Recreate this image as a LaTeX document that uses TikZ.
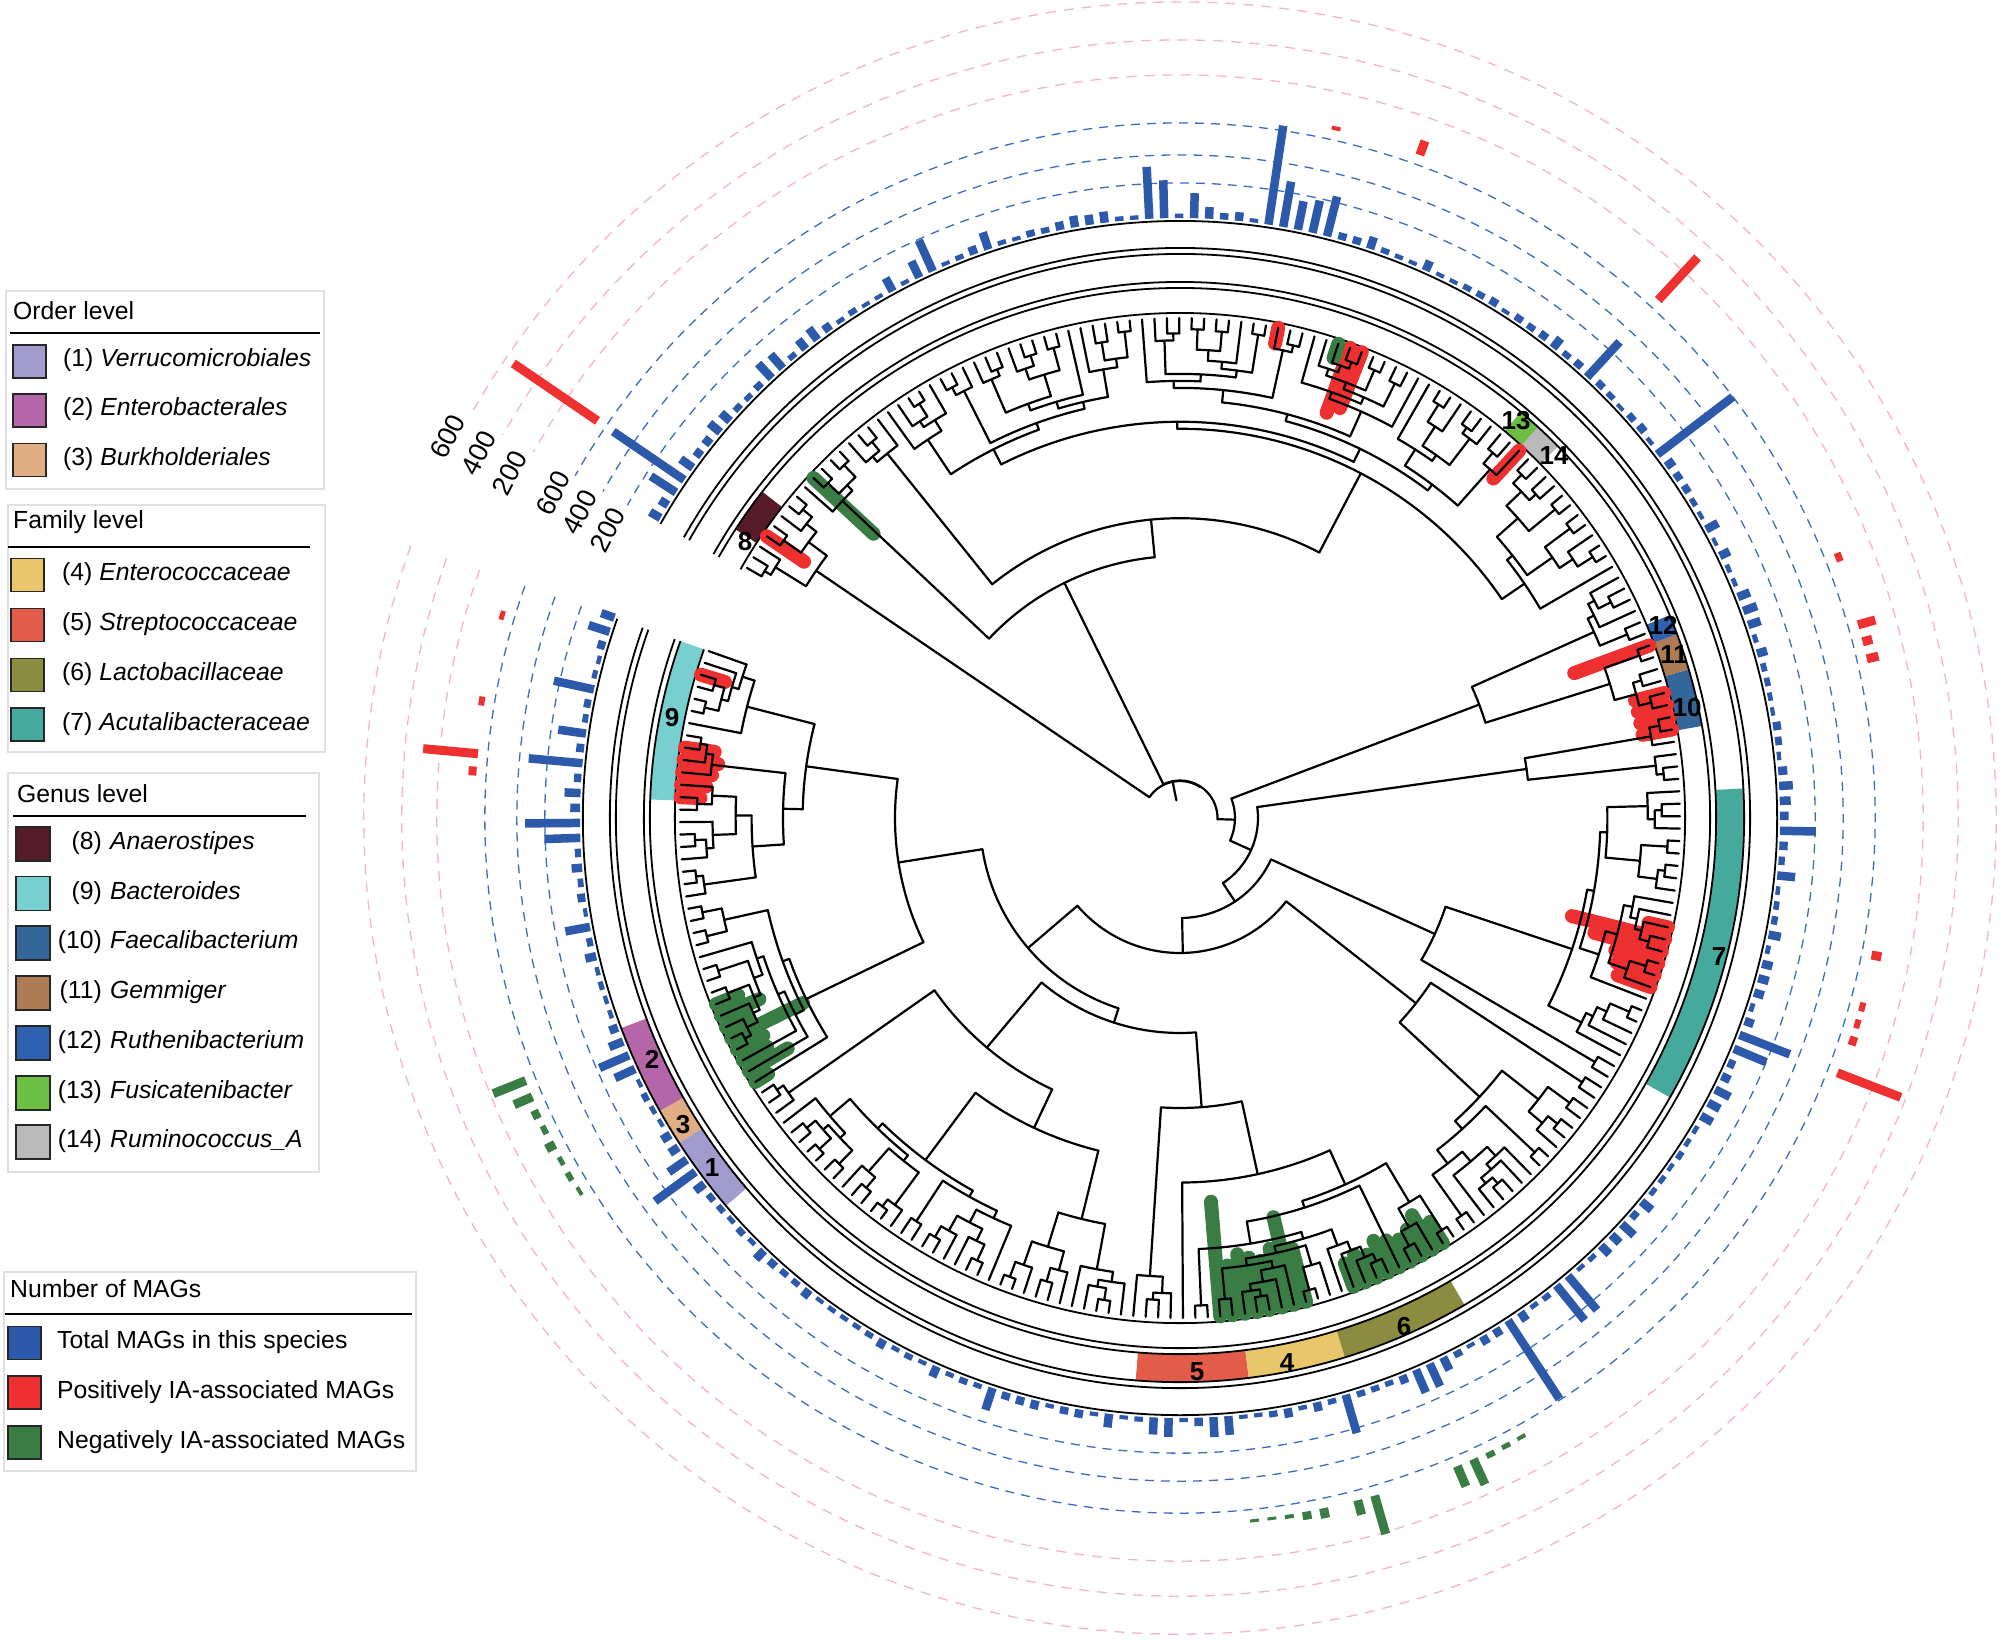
\documentclass[tikz,border=0pt]{standalone}
\usepackage{fontspec}
\setmainfont{Liberation Sans}
\definecolor{bblue}{HTML}{2C59A9}
\definecolor{rred}{HTML}{EE3130}
\definecolor{ggreen}{HTML}{3A7D44}
\definecolor{pinkd}{HTML}{F5B5C4}
\definecolor{blued}{HTML}{3D6BBF}
\definecolor{cA}{HTML}{A29BCD}
\definecolor{cB}{HTML}{B566A8}
\definecolor{cC}{HTML}{E0AE82}
\definecolor{cD}{HTML}{E9C66B}
\definecolor{cE}{HTML}{E35C4A}
\definecolor{cF}{HTML}{8C8C40}
\definecolor{cG}{HTML}{45A99D}
\definecolor{cH}{HTML}{561B29}
\definecolor{cI}{HTML}{78CFCF}
\definecolor{cJ}{HTML}{336699}
\definecolor{cK}{HTML}{AD7C54}
\definecolor{cL}{HTML}{2E62B0}
\definecolor{cM}{HTML}{6CBE45}
\definecolor{cN}{HTML}{B9B9B9}
\tikzset{
  br/.style={line width=2.2pt, black, line cap=round},
  bbar/.style={line width=8.5pt, bblue},
  rbar/.style={line width=9pt, rred},
  gbar/.style={line width=9pt, ggreen},
  hlr/.style={line width=14pt, rred, line cap=round},
  hlg/.style={line width=14pt, ggreen, line cap=round},
  ringline/.style={line width=1.8pt, black},
  bdash/.style={line width=1.3pt, blued, dash pattern=on 9pt off 7pt},
  pdash/.style={line width=1.3pt, pinkd, dash pattern=on 10pt off 8pt},
  lgf/.style={font=\fontsize{24.75}{30}\selectfont},
  stripl/.style={font=\fontsize{26}{30}\selectfont\bfseries},
  axl/.style={font=\fontsize{27}{32}\selectfont, rotate=62.7, inner sep=0pt},
  legbox/.style={draw=black!12, line width=1.5pt, fill=white},
  legsq/.style={draw=black!85, line width=1.3pt}
}
\def\Rtip{500}
\def\tA{160.5}
\def\dA{1.4265}
% forced splits / radii
\def\forceS#1#2#3{\expandafter\def\csname fs@#1@#2\endcsname{#3}}
\def\forceR#1#2#3{\expandafter\def\csname fr@#1@#2\endcsname{#3}}
\def\clade#1#2#3{%
 \begingroup
 \ifnum#1=#2\relax
   \pgfmathsetmacro\cc{\tA+#1*\dA}%
   \draw[br] (\cc:#3) -- (\cc:\Rtip);%
   \xdef\retc{\cc}%
 \else
   \pgfmathtruncatemacro\sz{#2-#1+1}%
   \ifcsname fs@#1@#2\endcsname
     \edef\mm{\csname fs@#1@#2\endcsname}%
   \else
     \pgfmathtruncatemacro\mm{#1+floor(rnd*(#2-#1))}%
   \fi
   \ifcsname fr@#1@#2\endcsname
     \edef\rr{\csname fr@#1@#2\endcsname}%
   \else
     \pgfmathsetmacro\rr{min(\Rtip-5,max(#3+7,\Rtip-24*pow(ln(\sz),1.3)*(0.7+0.6*rnd)))}%
   \fi
   \pgfmathtruncatemacro\mmp{\mm+1}%
   \edef\tmp{\noexpand\clade{#1}{\mm}{\rr}}\tmp\let\cA\retc
   \edef\tmp{\noexpand\clade{\mmp}{#2}{\rr}}\tmp\let\cB\retc
   \draw[br] (\cA:\rr) arc[start angle=\cA, end angle=\cB, radius=\rr pt];%
   \pgfmathsetmacro\cc{(\cA+\cB)/2}%
   \draw[br] (\cc:#3) -- (\cc:\rr);%
   \xdef\retc{\cc}%
 \fi
 \endgroup}
\def\setbb#1#2{\expandafter\xdef\csname bb@#1\endcsname{#2}}
\newcommand\strip[5]{\fill[#5] (#1:#3) arc[start angle=#1,end angle=#2,radius=#3 pt] -- (#2:#4) arc[start angle=#2,end angle=#1,radius=#4 pt] -- cycle;}
\newcommand\ringc[2]{\draw[#1] (160.5:#2) arc[start angle=160.5,end angle=510.5,radius=#2 pt];}
\newcommand\legitem[4]{%
  \filldraw[legsq, fill=#3] (#1,#2-16.5) rectangle ++(33,33);}
\begin{document}
\begin{tikzpicture}[x=1pt,y=1pt]
\useasboundingbox (-1180,-821) rectangle (821,818);
\fill[white] (-1180,-821) rectangle (821,818);
\pgfmathsetseed{11}
% dashed guide circles
\ringc{pdash}{743}\ringc{pdash}{778}\ringc{pdash}{816}
\ringc{bdash}{635}\ringc{bdash}{663}\ringc{bdash}{695}
% blue bars
\foreach \i/\l in {197/100,205/52,204/38,202/25,196/46,195/29,194/33,193/41,
  220/34,216/18,223/15,233/20,242/86,243/30,245/12,241/15,
  139/36,136/18,141/11,125/54,124/35,100/94,104/45,105/45,94/25,93/25,88/40,
  79/20,76/19,64/23,38/22,39/50,30/32,31/22,29/15,
  10/54,14/55,5/41,8/28,15/36,21/25,1/22,166/95,173/48}{\setbb{\i}{\l}}
\foreach \i in {0,...,245}{%
  \ifcsname bb@\i\endcsname \edef\bl{\csname bb@\i\endcsname}\else
  \pgfmathsetmacro\bl{4+16*rnd*rnd}\fi
  \pgfmathsetmacro\ta{\tA+\i*\dA}%
  \draw[bbar] (\ta:600) -- (\ta:{600+\bl});}
% red / green bars
\foreach \i/\l in {242/102,189/15,194/4,173/58,155/7,151/18,150/10,149/12,132/10,127/8,128/6,129/6,125/68,10/55,11/8,7/6,2/5}{%
  \pgfmathsetmacro\ta{\tA+\i*\dA}\draw[rbar] (\ta:705) -- (\ta:{705+\l});}
\foreach \i/\l in {29/35,30/20,31/8,32/6,33/10,34/5,35/6,36/4,88/40,87/15,85/10,84/8,83/4,82/3,81/3,93/22,94/28,95/6,96/5,97/4}{%
  \pgfmathsetmacro\ta{\tA+\i*\dA}\draw[gbar] (\ta:705) -- (\ta:{705+\l});}
% strips
\strip{160.5}{178}{505}{530}{cI}
\strip{502}{507}{505}{530}{cH}
\strip{370}{376.3}{505}{530}{cJ}
\strip{376.3}{380.3}{505}{530}{cK}
\strip{380.3}{382.5}{505}{530}{cL}
\strip{407.5}{410}{505}{530}{cM}
\strip{404.5}{407.5}{505}{530}{cN}
\strip{265.5}{277}{536}{564}{cE}
\strip{277}{287}{536}{564}{cD}
\strip{287}{300.3}{536}{564}{cF}
\strip{330.3}{363}{536}{564}{cG}
\strip{200.6}{209.4}{570}{597}{cB}
\strip{209.4}{213}{570}{597}{cC}
\strip{213}{220.5}{570}{597}{cA}
% rings
\foreach \r in {505,530,536,564,570,597}{\ringc{ringline}{\r}}
% highlights
\foreach \i/\l in {2/25,8/30,9/35,10/30,11/25,12/20,242/45,195/16,189/69,188/60,173/38,154/80,150/30,149/30,148/30,147/30,130/96,129/70,128/45,127/40,126/35,131/20}{%
  \pgfmathsetmacro\ta{\tA+\i*\dA}\draw[hlr] (\ta:\Rtip) -- (\ta:{\Rtip-\l});}
\foreach \i/\l in {236/82,29/24,30/42,31/25,32/80,33/30,34/28,35/45,36/15,190/15,80/115,81/50,82/60,83/55,84/50,85/60,86/90,87/55,91/25,92/30,93/25,94/35,95/30,96/25,97/30,98/40,99/25}{%
  \pgfmathsetmacro\ta{\tA+\i*\dA}\draw[hlg] (\ta:\Rtip) -- (\ta:{\Rtip-\l});}
% tree topology (top levels fixed, the rest generated)
\forceS{0}{245}{237}\forceR{0}{245}{37}
\forceS{0}{237}{160}\forceR{0}{237}{37.5}
\forceR{238}{245}{440}
\forceR{161}{237}{262}
\forceS{0}{160}{148}\forceR{0}{160}{55}
\forceR{149}{160}{320}
\forceS{0}{148}{142}\forceR{0}{148}{78}
\forceR{143}{148}{350}
\forceS{0}{142}{117}\forceR{0}{142}{100}
\forceR{118}{142}{280}
\forceS{0}{117}{100}\forceR{0}{117}{135}
\forceR{101}{117}{300}
\forceS{0}{100}{36}\forceR{0}{100}{200}
\forceR{0}{36}{285}
\forceS{37}{100}{72}\forceR{37}{100}{215}
\forceR{37}{72}{300}
\forceR{73}{100}{290}
\clade{0}{245}{18}
% strip labels
\node[stripl] at (-508,100) {9};
\node[stripl] at (-435,276) {8};
\node[stripl] at (-528,-241) {2};
\node[stripl] at (-497,-307) {3};
\node[stripl] at (-468,-350) {1};
\node[stripl] at (17,-554) {5};
\node[stripl] at (107,-545) {4};
\node[stripl] at (224,-509) {6};
\node[stripl] at (539,-139) {7};
\node[stripl] at (507,110) {10};
\node[stripl] at (494,163) {11};
\node[stripl] at (483,193) {12};
\node[stripl] at (336,397) {13};
\node[stripl] at (374,362) {14};
% axis labels
\node[axl] at (153.3:641) {200};
\node[axl] at (153.0:673.5) {400};
\node[axl] at (152.6:706) {600};
\node[axl] at (152.75:753.6) {200};
\node[axl] at (152.5:791) {400};
\node[axl] at (152.5:826) {600};
% legend 1
\draw[legbox] (-1174,527) rectangle (-856,329);
\node[lgf, anchor=base west, inner sep=0] at (-1167,498) {Order level};
\draw[line width=1.5pt] (-1170,485) -- (-860,485);
\legitem{-1167}{456.5}{cA}{}\node[lgf, anchor=base west, inner sep=0] at (-1117,451) {(1) \textit{Verrucomicrobiales}};
\legitem{-1167}{407.5}{cB}{}\node[lgf, anchor=base west, inner sep=0] at (-1117,402) {(2) \textit{Enterobacterales}};
\legitem{-1167}{358}{cC}{}\node[lgf, anchor=base west, inner sep=0] at (-1117,352.5) {(3) \textit{Burkholderiales}};
% legend 2
\draw[legbox] (-1172,313) rectangle (-855,66);
\node[lgf, anchor=base west, inner sep=0] at (-1167,290) {Family level};
\draw[line width=1.5pt] (-1172,271) -- (-870,271);
\legitem{-1169}{243}{cD}{}\node[lgf, anchor=base west, inner sep=0] at (-1118,237.5) {(4) \textit{Enterococcaceae}};
\legitem{-1169}{193}{cE}{}\node[lgf, anchor=base west, inner sep=0] at (-1118,187.5) {(5) \textit{Streptococcaceae}};
\legitem{-1169}{143}{cF}{}\node[lgf, anchor=base west, inner sep=0] at (-1118,137.5) {(6) \textit{Lactobacillaceae}};
\legitem{-1169}{93.5}{cG}{}\node[lgf, anchor=base west, inner sep=0] at (-1118,88) {(7) \textit{Acutalibacteraceae}};
% legend 3
\draw[legbox] (-1172,45) rectangle (-861,-354);
\node[lgf, anchor=base west, inner sep=0] at (-1163,16) {Genus level};
\draw[line width=1.5pt] (-1167,2) -- (-874,2);
\foreach \y/\c/\n/\t in {-26/cH/8/Anaerostipes,-75.5/cI/9/Bacteroides,-125/cJ/10/Faecalibacterium,-175/cK/11/Gemmiger,-225/cL/12/Ruthenibacterium,-275/cM/13/Fusicatenibacter,-324/cN/14/Ruminococcus\_A}{%
  \filldraw[legsq, fill=\c] (-1164,\y-17) rectangle ++(34,34);
  \node[lgf, anchor=base east, inner sep=0] at (-1078,\y-5.5) {(\n)};
  \node[lgf, anchor=base west, inner sep=0] at (-1070,\y-5.5) {\textit{\t}};}
% legend 4
\draw[legbox] (-1176,-454) rectangle (-764,-653);
\node[lgf, anchor=base west, inner sep=0] at (-1170,-479) {Number of MAGs};
\draw[line width=1.5pt] (-1175,-496) -- (-768,-496);
\legitem{-1172}{-525}{bblue}{}\node[lgf, anchor=base west, inner sep=0] at (-1123,-530.5) {Total MAGs in this species};
\legitem{-1172}{-574.5}{rred}{}\node[lgf, anchor=base west, inner sep=0] at (-1123,-580) {Positively IA-associated MAGs};
\legitem{-1172}{-624.5}{ggreen}{}\node[lgf, anchor=base west, inner sep=0] at (-1123,-630) {Negatively IA-associated MAGs};
\end{tikzpicture}
\end{document}
